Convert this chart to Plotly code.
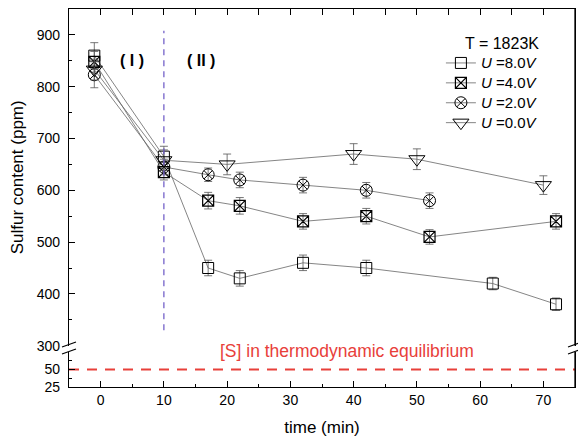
import plotly.graph_objects as go

# ---- data ----
t_8v = [-1, 10, 17, 22, 32, 42, 62, 72]
s_8v = [860, 665, 450, 430, 460, 450, 420, 380]
e_8v = [25, 20, 15, 15, 15, 15, 12, 12]

t_4v = [-1, 10, 17, 22, 32, 42, 52, 72]
s_4v = [848, 635, 580, 570, 540, 550, 510, 540]
e_4v = [20, 15, 16, 16, 15, 15, 14, 15]

t_2v = [-1, 10, 17, 22, 32, 42, 52]
s_2v = [823, 645, 630, 620, 610, 600, 580]
e_2v = [25, 15, 13, 15, 15, 15, 15]

t_0v = [-1, 10, 20, 40, 50, 70]
s_0v = [833, 658, 650, 670, 660, 610]
e_0v = [20, 20, 20, 20, 20, 18]

labels = ["<i>U</i> =8.0<i>V</i>", "<i>U</i> =4.0<i>V</i>",
          "<i>U</i> =2.0<i>V</i>", "<i>U</i> =0.0<i>V</i>"]
symbols = ["square-open", "square-x-open", "circle-x-open", "triangle-down-open"]

equilibrium_s = 50
stage_boundary = 10

x_ticks = [0, 10, 20, 30, 40, 50, 60, 70]
y_ticks_upper = [300, 400, 500, 600, 700, 800, 900]
y_ticks_lower = [25, 50]

FONT = "Liberation Sans, Arial, sans-serif"

fig = go.Figure()

series = [(t_8v, s_8v, e_8v), (t_4v, s_4v, e_4v), (t_2v, s_2v, e_2v), (t_0v, s_0v, e_0v)]
sizes = [11, 11, 12, 14]
widths = [1, 1.2, 1, 1]
for (tx, sy, ey), lab, sym, sz, lw in zip(series, labels, symbols, sizes, widths):
    fig.add_trace(go.Scatter(
        x=tx, y=sy, name='<span style="font-size:15px">' + lab + '</span>',
        mode="lines+markers", xaxis="x", yaxis="y2",
        line=dict(color="#666666", width=0.8),
        marker=dict(symbol=sym, size=sz, color="black", line=dict(width=lw, color="black")),
        error_y=dict(type="data", array=ey, visible=True, color="#555555", thickness=0.8, width=4),
    ))

# equilibrium line (lower axis)
fig.add_trace(go.Scatter(
    x=[-5, 75], y=[equilibrium_s, equilibrium_s], mode="lines", xaxis="x", yaxis="y",
    line=dict(color="#e8403a", width=2, dash="10px,8px"), showlegend=False, hoverinfo="skip"))

# vertical stage boundary
fig.add_trace(go.Scatter(
    x=[stage_boundary, stage_boundary], y=[330, 908], mode="lines", xaxis="x", yaxis="y2",
    line=dict(color="#7461c9", width=1.3, dash="6px,5px"), showlegend=False, hoverinfo="skip"))

# dummy for top mirror axis
fig.add_trace(go.Scatter(x=[None], y=[None], xaxis="x2", yaxis="y2", showlegend=False))

d_low = 35 / 378
d_up = (387 - 345.7) / 378

axis_common = dict(showline=True, linecolor="black", linewidth=1.3, ticks="inside",
                   tickcolor="black", showgrid=False, zeroline=False, automargin=False,
                   tickfont=dict(family=FONT, size=14, color="black"))

fig.update_layout(
    width=578, height=440,
    margin=dict(l=69, r=3, t=9, b=53, autoexpand=False),
    paper_bgcolor="white", plot_bgcolor="white",
    font=dict(family=FONT, color="black"),
    xaxis=dict(**axis_common, range=[-5, 75], tickvals=x_ticks, ticklen=6,
               minor=dict(ticks="inside", ticklen=3, dtick=5, tick0=0, tickcolor="black"),
               anchor="y", domain=[0, 1],
               title=dict(text="time (min)", font=dict(size=17, family=FONT), standoff=14)),
    xaxis2=dict(**axis_common, range=[-5, 75], matches="x", overlaying="x", anchor="y2",
                side="top", showticklabels=False, tickvals=x_ticks, ticklen=6,
                minor=dict(ticks="inside", ticklen=6, dtick=5, tick0=0, tickcolor="black")),
    yaxis=dict(**axis_common, domain=[0, d_low], range=[25, 75], tickvals=y_ticks_lower,
               ticklen=6, mirror=True, anchor="x", ticklabelstandoff=5,
               minor=dict(ticks="inside", ticklen=3, tickvals=[37.5, 62.5], tickcolor="black")),
    yaxis2=dict(**axis_common, domain=[d_up, 1], range=[300, 950], tickvals=y_ticks_upper,
                ticklen=6, mirror=True, anchor="x", ticklabelstandoff=5,
                minor=dict(ticks="inside", ticklen=3, dtick=50, tick0=0, tickcolor="black"),
                title=dict(text="Sulfur content (ppm)", font=dict(size=17, family=FONT), standoff=8)),
    legend=dict(x=0.735, y=1 - (48 - 9) / 378, xanchor="left", yanchor="top",
                bgcolor="rgba(0,0,0,0)", font=dict(size=13, family=FONT),
                tracegroupgap=0, itemwidth=30),
    showlegend=True,
)

W, H = 506.0, 378.0
def px(xp):
    return (xp - 69) / W
def py(yp):
    return (387 - yp) / H

# right-hand frame segments
fig.add_shape(type="line", xref="paper", yref="paper", x0=1, x1=1, y0=d_up, y1=1,
              line=dict(color="black", width=1.3))
fig.add_shape(type="line", xref="paper", yref="paper", x0=1, x1=1, y0=0, y1=d_low,
              line=dict(color="black", width=1.3))

# axis break marks
for xc in [69, 575]:
    for yc in [344.5, 351.5]:
        fig.add_shape(type="line", xref="paper", yref="paper",
                      x0=px(xc - 7), y0=py(yc + 2.5), x1=px(xc + 7), y1=py(yc - 2.5),
                      line=dict(color="black", width=1.2))

fig.add_annotation(text="<b>( I )</b>", x=5.0, y=850, xref="x", yref="y2", showarrow=False,
                   font=dict(size=16, family=FONT, color="black"), xanchor="center")
fig.add_annotation(text="<b>( II )</b>", x=15.8, y=850, xref="x", yref="y2", showarrow=False,
                   font=dict(size=16, family=FONT, color="black"), xanchor="center")
fig.add_annotation(text="T = 1823K", x=px(541), y=py(43), xref="paper", yref="paper",
                   showarrow=False, xanchor="right", yanchor="middle",
                   font=dict(size=16, family=FONT, color="black"))
fig.add_annotation(text="[S] in thermodynamic equilibrium", x=px(347), y=py(351),
                   xref="paper", yref="paper", showarrow=False, xanchor="center", yanchor="middle",
                   font=dict(size=17.5, family=FONT, color="#e8403a"))

fig.write_html("out.html", config={"displayModeBar": False},
               post_script="document.body.style.margin='0';document.body.style.overflow='hidden';")
